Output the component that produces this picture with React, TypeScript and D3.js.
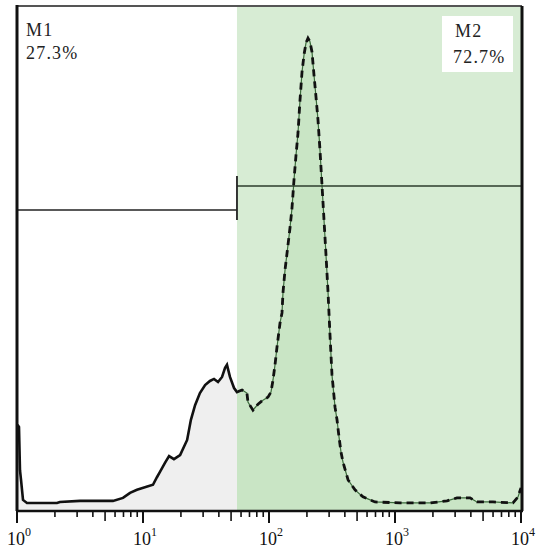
import * as d3 from "d3";
import React from "react";

// channel intensity (log scale) and event counts (% of plot height)
const channel = [
  1.009, 1.037, 1.056, 1.076, 1.116, 1.2, 2.077, 2.19, 3.16, 5.78, 6.94, 7.89, 8.96,
  12.0, 12.9, 13.6, 14.9, 16.1, 17.6, 19.7, 22.4, 24.0, 25.9, 28.3, 31.1, 34.0, 36.6,
  39.4, 42.4, 44.8, 46.4, 49.0, 52.8, 55.7, 61.1, 66.8, 68.1, 74.6, 81.8, 89.6, 98.2,
  103.7, 107.6, 111.6, 115.7, 122.3, 126.8, 129.1, 134.0, 141.5, 146.8, 152.2, 157.9,
  163.8, 169.9, 176.2, 182.8, 189.6, 196.7, 203.9, 211.5, 219.4, 227.6, 236.1, 244.8,
  253.9, 263.4, 273.3, 283.4, 294.0, 304.9, 316.2, 334.2, 346.6, 359.4, 372.8, 386.6,
  423.6, 481.4, 557.2, 693.9, 1095.8, 1896.6, 2586, 3105, 3938, 4475, 5995, 8640, 9467,
  10000,
];
const counts = [
  17.1, 16.7, 8.1, 6.2, 2.2, 1.6, 1.6, 1.8, 2.0, 2.0, 2.6, 3.6, 4.2,
  5.2, 6.7, 7.7, 9.5, 10.9, 10.3, 11.1, 14.1, 18.1, 21.0, 23.4, 25.0, 25.8, 26.2,
  25.6, 26.6, 28.4, 29.0, 26.6, 24.4, 23.6, 24.0, 23.4, 21.6, 20.0, 21.2, 22.0, 22.6,
  23.6, 26.0, 29.0, 32.5, 37.3, 39.3, 43.3, 47.8, 52.8, 56.2, 60.1, 65.7,
  70.6, 75.0, 81.5, 87.1, 90.5, 92.9, 93.8, 93.1, 91.1, 86.5, 82.1, 77.6,
  71.6, 64.7, 57.7, 50.8, 43.5, 34.9, 27.0, 20.6, 18.1, 14.7, 11.7, 9.7,
  6.2, 4.2, 2.8, 1.8, 1.6, 1.6, 2.0, 2.6, 2.6, 1.8, 1.8, 1.6, 2.8,
  4.6,
];

const gate = 55.7;
const markerNames = ["M1", "M2"];
const markerPercents = ["27.3%", "72.7%"];
const decades = [0, 1, 2, 3, 4];

const W = 538;
const H = 553;
const left = 17;
const right = 521;
const top = 7;
const bottom = 511;

export default function App() {
  const x = d3.scaleLog().domain([1, 10000]).range([left, right]);
  const y = d3.scaleLinear().domain([0, 100]).range([bottom, top]);

  const pts = channel.map((c, i) => [c, counts[i]] as [number, number]);
  const area = d3
    .area<[number, number]>()
    .x((d) => x(d[0]))
    .y0(y(0))
    .y1((d) => y(d[1]))(pts) as string;
  const line = d3
    .line<[number, number]>()
    .x((d) => x(d[0]))
    .y((d) => y(d[1]))(pts) as string;

  const gx = x(gate);
  const minor: { v: number; len: number }[] = [];
  for (let e = 0; e < 4; e++) {
    for (let m = 2; m <= 9; m++) {
      minor.push({ v: m * Math.pow(10, e), len: m === 5 ? 10 : 6 });
    }
  }

  const serif = "Liberation Serif";
  const lab = { fontFamily: serif, fontSize: 18, fill: "#222", letterSpacing: 1.2 };

  return (
    <svg
      width={W}
      height={H}
      style={{ position: "absolute", left: 0, top: 0, background: "#fff" }}
    >
      <defs>
        <clipPath id="lo">
          <rect x={0} y={0} width={gx} height={H} />
        </clipPath>
        <clipPath id="hi">
          <rect x={gx} y={0} width={W - gx} height={H} />
        </clipPath>
      </defs>

      {/* gated region */}
      <rect x={gx} y={top} width={right - gx} height={bottom - top} fill="#d7ecd4" />

      {/* histogram fill */}
      <path d={area} fill="#efefef" clipPath="url(#lo)" />
      <path d={area} fill="#c9e5c5" clipPath="url(#hi)" />

      {/* histogram outline */}
      <path d={line} fill="none" stroke="#111" strokeWidth={2.6} clipPath="url(#lo)" />
      <path d={line} fill="none" stroke="#3b6b3b" strokeWidth={1.2} clipPath="url(#hi)" />
      <path
        d={line}
        fill="none"
        stroke="#111"
        strokeWidth={2.8}
        strokeDasharray="7 5"
        clipPath="url(#hi)"
      />

      {/* markers */}
      <line x1={left} x2={gx} y1={210} y2={210} stroke="#222" strokeWidth={1.6} />
      <line x1={gx} x2={right} y1={186} y2={186} stroke="#2c3c2c" strokeWidth={1.6} />
      <line x1={gx} x2={gx} y1={176} y2={220} stroke="#222" strokeWidth={1.8} />

      {/* labels */}
      <text x={26} y={36} {...lab}>
        {markerNames[0]}
      </text>
      <text x={26} y={59} {...lab}>
        {markerPercents[0]}
      </text>
      <rect x={442} y={16} width={71} height={56} fill="#fff" />
      <text x={455} y={37} {...lab}>
        {markerNames[1]}
      </text>
      <text x={453} y={63} {...lab}>
        {markerPercents[1]}
      </text>

      {/* frame */}
      <line x1={left} x2={right + 1} y1={top - 1} y2={top - 1} stroke="#555" strokeWidth={2} />
      <line x1={right + 1} x2={right + 1} y1={top - 1} y2={bottom} stroke="#111" strokeWidth={3} />
      <line x1={left} x2={left} y1={top - 2} y2={bottom} stroke="#111" strokeWidth={3} />
      <line x1={left - 1} x2={right + 2} y1={bottom} y2={bottom} stroke="#111" strokeWidth={2.5} />

      {/* ticks */}
      {minor.map((t) => (
        <line
          key={t.v}
          x1={x(t.v)}
          x2={x(t.v)}
          y1={bottom}
          y2={bottom + t.len}
          stroke="#111"
          strokeWidth={1.6}
        />
      ))}
      {decades.map((e) => (
        <g key={e}>
          <line
            x1={x(Math.pow(10, e))}
            x2={x(Math.pow(10, e))}
            y1={bottom}
            y2={bottom + 12}
            stroke="#111"
            strokeWidth={2}
          />
          <text
            x={x(Math.pow(10, e)) + 2}
            y={545}
            textAnchor="middle"
            fontFamily={serif}
            fontSize={18}
            fill="#111"
          >
            10
            <tspan fontSize={12} dy={-9}>
              {e}
            </tspan>
          </text>
        </g>
      ))}
    </svg>
  );
}
